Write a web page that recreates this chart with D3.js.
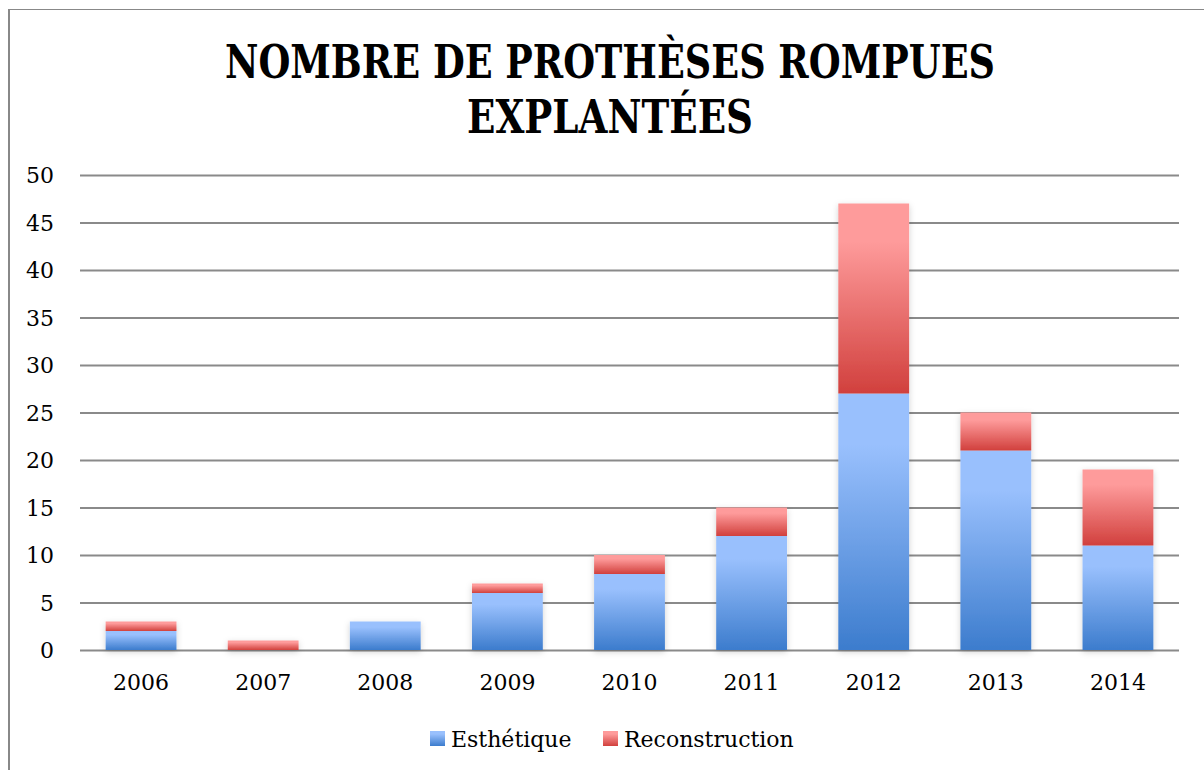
<!DOCTYPE html>
<html>
<head>
<meta charset="utf-8">
<script src="https://cdn.jsdelivr.net/npm/d3@7"></script>
<style>
  body { margin: 0; background: #fff; }
  svg text { fill: #000; }
</style>
</head>
<body>
<div id="graph"></div>
<script>
// ------DATA------
const years = ["2006", "2007", "2008", "2009", "2010", "2011", "2012", "2013", "2014"]
const esthetique = [2, 0, 3, 6, 8, 12, 27, 21, 11]
const reconstruction = [1, 1, 0, 1, 2, 3, 20, 4, 8]
const yTicks = [0, 5, 10, 15, 20, 25, 30, 35, 40, 45, 50]
const seriesNames = ["Esthétique", "Reconstruction"]
const titleLines = ["NOMBRE DE PROTHÈSES ROMPUES", "EXPLANTÉES"]

const width = 1204
const height = 770
const margin = { top: 175, right: 25, bottom: 120, left: 80 }
const gWidth = width - margin.left - margin.right
const gHeight = height - margin.top - margin.bottom
const labelFont = "'DejaVu Serif', serif"

const svg = d3.select("#graph").append("svg")
  .attr("width", width)
  .attr("height", height)

const defs = svg.append("defs")
// vertical gradients: light at top, dark at bottom
function addGradient(id, top, bottom) {
  const g = defs.append("linearGradient").attr("id", id)
    .attr("x1", 0).attr("y1", 0).attr("x2", 0).attr("y2", 1)
  g.append("stop").attr("offset", "0%").attr("stop-color", top)
  g.append("stop").attr("offset", "20%").attr("stop-color", top)
  g.append("stop").attr("offset", "100%").attr("stop-color", bottom)
}
addGradient("gradBlue", "#99c0fd", "#3c7ccd")
addGradient("gradRed", "#fe9b9b", "#d1403d")

const shadow = defs.append("filter").attr("id", "shadow")
  .attr("x", "-20%").attr("y", "-20%").attr("width", "140%").attr("height", "140%")
shadow.append("feDropShadow").attr("dx", 0).attr("dy", 2).attr("stdDeviation", 3)
  .attr("flood-color", "#000").attr("flood-opacity", 0.18)

// outer frame (left + top only)
svg.append("line").attr("x1", 9).attr("x2", 9).attr("y1", 9).attr("y2", height)
  .attr("stroke", "#888").attr("stroke-width", 2)
svg.append("line").attr("x1", 8).attr("x2", width).attr("y1", 9.5).attr("y2", 9.5)
  .attr("stroke", "#888").attr("stroke-width", 1)

// title (condensed with textLength, as no condensed face is installed)
const titleWidths = [770, 286]
titleLines.forEach((line, i) => {
  svg.append("text")
    .attr("x", 610 - titleWidths[i] / 2)
    .attr("y", 78 + i * 55)
    .attr("textLength", titleWidths[i])
    .attr("lengthAdjust", "spacingAndGlyphs")
    .style("font-family", labelFont)
    .style("font-weight", "bold")
    .style("font-size", "46px")
    .text(line)
})

const graph = svg.append("g").attr("transform", `translate(${margin.left}, ${margin.top})`)

const xScale = d3.scaleBand().domain(years).range([0, gWidth]).paddingInner(0.42).paddingOuter(0.21)
const yScale = d3.scaleLinear().domain([0, 50]).range([gHeight, 0])

// grid lines
graph.append("g").attr("class", "grid")
  .call(d3.axisLeft(yScale).tickValues(yTicks).tickSize(-gWidth).tickFormat(""))
  .call(g => g.select(".domain").remove())
  .call(g => g.selectAll("line").attr("stroke", "#8a8a8a").attr("stroke-width", 2))

// y labels
graph.append("g")
  .call(d3.axisLeft(yScale).tickValues(yTicks).tickSize(0).tickPadding(26))
  .call(g => g.select(".domain").remove())
  .call(g => g.selectAll("text")
    .style("font-family", labelFont).style("font-size", "22px").attr("dy", "0.35em"))

// x labels
graph.append("g").attr("transform", `translate(0, ${gHeight})`)
  .call(d3.axisBottom(xScale).tickSize(0).tickPadding(24))
  .call(g => g.select(".domain").remove())
  .call(g => g.selectAll("text")
    .style("font-family", labelFont).style("font-size", "22px"))

// stacked bars
const stackData = years.map((y, i) => ({ year: y, Esthétique: esthetique[i], Reconstruction: reconstruction[i] }))
const stack = d3.stack().keys(seriesNames)(stackData)
const fills = ["url(#gradBlue)", "url(#gradRed)"]

graph.append("g").attr("filter", "url(#shadow)")
  .selectAll("g").data(stack).join("g")
  .attr("fill", (d, i) => fills[i])
  .selectAll("rect").data(d => d.filter(s => s[1] - s[0] > 0)).join("rect")
    .attr("x", d => xScale(d.data.year))
    .attr("y", d => yScale(d[1]))
    .attr("width", xScale.bandwidth())
    .attr("height", d => yScale(d[0]) - yScale(d[1]))

// legend
const legend = svg.append("g")
const legendItems = [
  { name: seriesNames[0], fill: fills[0], x: 430 },
  { name: seriesNames[1], fill: fills[1], x: 603 }
]
legendItems.forEach(item => {
  legend.append("rect").attr("x", item.x).attr("y", 731).attr("width", 15).attr("height", 15).attr("fill", item.fill)
  legend.append("text").attr("x", item.x + 21).attr("y", 747)
    .style("font-family", labelFont).style("font-size", "22px")
    .text(item.name)
})
</script>
</body>
</html>
